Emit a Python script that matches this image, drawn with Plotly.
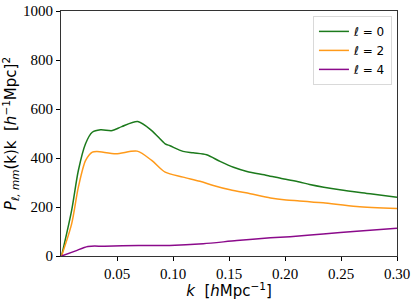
import plotly.graph_objects as go

k0 = [0.0005, 0.0095, 0.0155, 0.0219, 0.0279, 0.0353, 0.0458, 0.0542, 0.0685, 0.081, 0.093,
      0.0973, 0.109, 0.118, 0.130, 0.142, 0.154, 0.166, 0.184, 0.198, 0.213, 0.222, 0.249, 0.276, 0.300]
p0 = [0, 186, 349, 458, 505, 515, 512, 528, 549, 512, 458,
      450, 427, 421, 413, 386, 362, 345, 329, 315, 302, 292, 270, 254, 240]

k2 = [0.0005, 0.0095, 0.0155, 0.022, 0.028, 0.032, 0.049, 0.068, 0.081, 0.093,
      0.109, 0.124, 0.136, 0.151, 0.169, 0.187, 0.201, 0.213, 0.234, 0.264, 0.300]
p2 = [0, 131, 281, 390, 424, 427, 417, 428, 390, 342,
      322, 305, 288, 270, 254, 237, 229, 225, 217, 202, 194]

k4 = [0.0005, 0.0125, 0.024, 0.039, 0.069, 0.097, 0.127, 0.157, 0.187, 0.2045, 0.234, 0.264, 0.300]
p4 = [0, 20, 39, 40, 43, 43, 50, 63, 74, 79, 90, 101, 113]

names = ["<i>ℓ</i> = 0", "<i>ℓ</i> = 2", "<i>ℓ</i> = 4"]
colors = ["#1c7a1c", "#ff9a1a", "#8b0a8b"]

fig = go.Figure()
for kk, pp, nm, c in zip([k0, k2, k4], [p0, p2, p4], names, colors):
    fig.add_trace(go.Scatter(x=kk, y=pp, mode="lines", name=nm,
                             line=dict(color=c, width=1.5, shape="spline", smoothing=0.8)))

tickfont = dict(family="Times New Roman, Liberation Serif, serif", size=15, color="black")
fig.update_layout(
    width=415, height=300,
    margin=dict(l=61, r=18, t=11, b=44, autoexpand=False),
    plot_bgcolor="white", paper_bgcolor="white",
    showlegend=True,
    legend=dict(x=0.985, y=0.98, xanchor="right", yanchor="top",
                bgcolor="rgba(255,255,255,0.8)", bordercolor="#d9d9d9", borderwidth=1,
                font=dict(family="DejaVu Sans", size=12, color="black"),
                itemwidth=30, tracegroupgap=0),
    xaxis=dict(range=[0, 0.3], tickvals=[0.05, 0.10, 0.15, 0.20, 0.25, 0.30],
               ticktext=["0.05", "0.10", "0.15", "0.20", "0.25", "0.30"],
               ticks="outside", ticklen=4, tickcolor="black", tickfont=tickfont,
               showgrid=False, zeroline=False, showline=True, linecolor="#333333", linewidth=1,
               mirror=True, automargin=False,
               title=dict(text="<i>k</i>  [<i>h</i>Mpc<sup>−1</sup>]",
                          font=dict(family="DejaVu Sans", size=15, color="black"), standoff=4)),
    yaxis=dict(range=[0, 1000], tickvals=[0, 200, 400, 600, 800, 1000],
               ticks="outside", ticklen=4, tickcolor="black", tickfont=tickfont,
               showgrid=False, zeroline=False, showline=True, linecolor="#333333", linewidth=1,
               mirror=True, automargin=False,
               title=dict(text="<i>P</i><sub><i>ℓ, mm</i></sub>(k)k  [<i>h</i><sup>−1</sup>Mpc]<sup>2</sup>",
                          font=dict(family="DejaVu Sans", size=15, color="black"), standoff=2)),
)

fig.write_html("out.html", config={"displayModeBar": False},
               post_script="document.body.style.margin='0';document.body.style.overflow='hidden';")
